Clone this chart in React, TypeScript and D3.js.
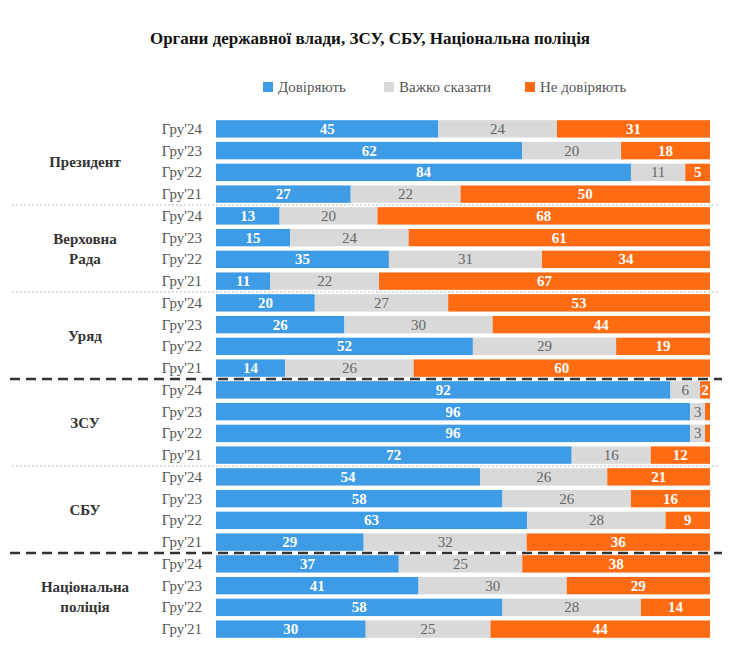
import * as d3 from 'd3';

const groups = ['Президент', 'Верховна Рада', 'Уряд', 'ЗСУ', 'СБУ', 'Національна поліція'];
const years = ["Гру'24", "Гру'23", "Гру'22", "Гру'21"];
const trust = [45, 62, 84, 27, 13, 15, 35, 11, 20, 26, 52, 14, 92, 96, 96, 72, 54, 58, 63, 29, 37, 41, 58, 30];
const hard = [24, 20, 11, 22, 20, 24, 31, 22, 27, 30, 29, 26, 6, 3, 3, 16, 26, 26, 28, 32, 25, 30, 28, 25];
const distrust = [31, 18, 5, 50, 68, 61, 34, 67, 53, 44, 19, 60, 2, 1, 1, 12, 21, 16, 9, 36, 38, 29, 14, 44];
const seriesNames = ['Довіряють', 'Важко сказати', 'Не  довіряють'];
const colors = ['#3e9be6', '#d9d9d9', '#ff6b12'];
const dashedAfter = [2, 4]; // group indices followed by dashed separator

export default function App() {
  const W = 740, H = 667;
  const x0 = 216, x1 = 710;
  const rows = d3.range(groups.length * years.length);
  const y = d3.scaleBand<number>().domain(rows).range([118, 640]).paddingInner(0.2).paddingOuter(0.1);
  const font = '"Liberation Serif", "Times New Roman", serif';
  const vals = [trust, hard, distrust];
  return (
    <svg width={W} height={H} style={{ position: 'absolute', left: 0, top: 0, background: '#fff' }} fontFamily={font}>
      <text x={370} y={44} textAnchor="middle" fontSize={17} fontWeight="bold" fill="#111">
        Органи державної влади, ЗСУ, СБУ, Національна поліція
      </text>
      {seriesNames.map((n, i) => {
        const lx = [263, 384, 525][i];
        return (
          <g key={n}>
            <rect x={lx} y={82} width={10} height={10} fill={colors[i]} />
            <text x={lx + 15} y={92} fontSize={15} fill="#555">{n}</text>
          </g>
        );
      })}
      {rows.map((r) => {
        const tot = trust[r] + hard[r] + distrust[r];
        const x = d3.scaleLinear().domain([0, tot]).range([x0, x1]);
        let acc = 0;
        const yy = y(r)!;
        return (
          <g key={r}>
            <text x={202} y={yy + y.bandwidth() / 2 + 5} textAnchor="end" fontSize={15} fill="#555">
              {years[r % 4]}
            </text>
            {vals.map((v, s) => {
              const a = acc;
              acc += v[r];
              const w = x(acc) - x(a);
              return (
                <g key={s}>
                  <rect x={x(a)} y={yy} width={w} height={y.bandwidth()} fill={colors[s]} />
                  {v[r] > 1 && (
                    <text x={x(a) + w / 2} y={yy + y.bandwidth() / 2 + 5} textAnchor="middle" fontSize={15}
                      fontWeight={s === 1 ? 'normal' : 'bold'} fill={s === 1 ? '#666' : '#fff'}>
                      {v[r]}
                    </text>
                  )}
                </g>
              );
            })}
          </g>
        );
      })}
      {groups.map((g, gi) => {
        const top = y(gi * 4)!;
        const bot = y(gi * 4 + 3)! + y.bandwidth();
        const mid = (top + bot) / 2;
        const words = g.split(' ');
        const lines = words.length > 1 ? words : [g];
        return (
          <g key={g}>
            {lines.map((l, li) => (
              <text key={li} x={85} y={mid + 5 + (li - (lines.length - 1) / 2) * 20} textAnchor="middle"
                fontSize={15} fontWeight="bold" fill="#333">{l}</text>
            ))}
            {gi < groups.length - 1 && (() => {
              const sy = bot + (y.step() - y.bandwidth()) / 2;
              return dashedAfter.includes(gi)
                ? <line x1={10} x2={722} y1={sy} y2={sy} stroke="#333" strokeWidth={2.5} strokeDasharray="10 6" />
                : <line x1={12} x2={720} y1={sy} y2={sy} stroke="#bbb" strokeWidth={1} strokeDasharray="2 2" />;
            })()}
          </g>
        );
      })}
    </svg>
  );
}
